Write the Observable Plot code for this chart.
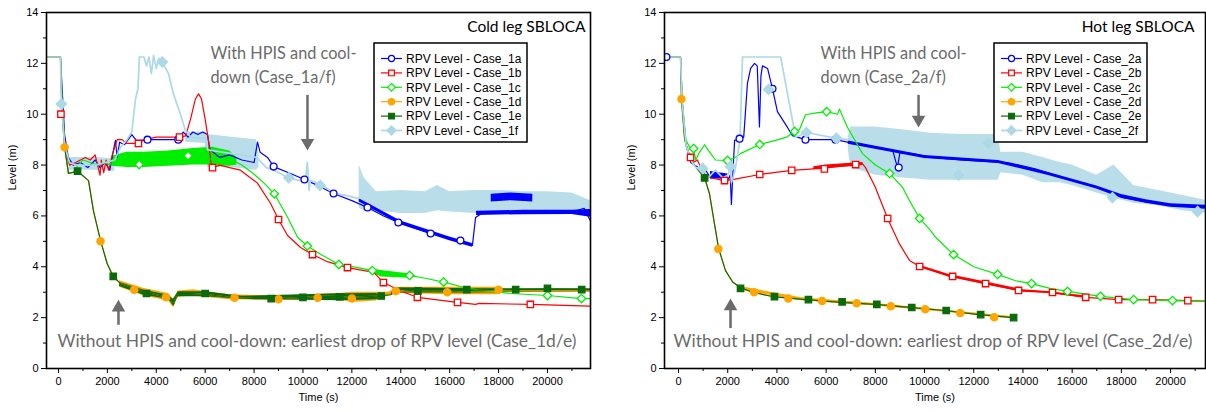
<!DOCTYPE html>
<html><head><meta charset="utf-8">
<script src="https://cdn.jsdelivr.net/npm/d3@7"></script>
<script src="https://cdn.jsdelivr.net/npm/@observablehq/plot@0.6"></script>
<style>
body{margin:0;background:#fff;}
#wrap{position:relative;width:1206px;height:411px;overflow:hidden;background:#fff;}
#left{position:absolute;left:0;top:0;}
#right{position:absolute;left:600px;top:0;}
</style></head><body>
<div id="wrap"><div id="left"></div><div id="right"></div></div>
<script>
// ---------- tick labels ----------
const yTicks = [0, 2, 4, 6, 8, 10, 12, 14];
const yMinor = [1, 3, 5, 7, 9, 11, 13];
const xTicks = [0, 2000, 4000, 6000, 8000, 10000, 12000, 14000, 16000, 18000, 20000];
const xMinor = [1000, 3000, 5000, 7000, 9000, 11000, 13000, 15000, 17000, 19000, 21000];

// ---------- Cold leg SBLOCA (Case 1) ----------
const names1 = ["RPV Level - Case_1a","RPV Level - Case_1b","RPV Level - Case_1c","RPV Level - Case_1d","RPV Level - Case_1e","RPV Level - Case_1f"];
const c1a = [[-1000,12.25],[80,12.25],[150,11.0],[250,9.2],[400,8.3],[600,8.0],[900,8.1],[1200,7.9],[1500,8.2],[1700,7.9],[1900,8.1],[2100,7.8],[2250,8.6],[2330,8.97],[2400,8.3],[2500,8.9],[2700,8.8],[3000,9.2],[3200,8.95],[3640,9.0],[4200,9.0],[4900,9.0],[5100,9.3],[5300,9.1],[5500,9.3],[5700,9.2],[5900,9.3],[6090,9.2],[6200,8.6],[6600,8.3],[7000,8.4],[7500,8.2],[8000,8.1],[8140,8.9],[8250,8.5],[8550,8.3],[8800,7.94],[9490,7.67],[10060,7.43],[10600,7.2],[11250,6.88],[12000,6.6],[12640,6.33],[13300,6.0],[13900,5.74],[14500,5.55],[15220,5.31],[15600,5.25],[16000,5.1],[16440,5.03],[16930,4.84],[17060,5.94],[17300,6.1],[18000,6.1],[19000,6.15],[20000,6.1],[21000,6.15],[21500,6.3],[21760,5.8]];
const c1b = [[-1000,12.25],[80,12.25],[130,10.5],[200,9.5],[300,8.5],[450,8.0],[700,8.1],[900,8.2],[1100,8.3],[1300,8.2],[1500,8.4],[1600,8.0],[1700,7.6],[1750,8.2],[1850,7.7],[1950,8.2],[2050,7.8],[2200,8.4],[2400,9.0],[2600,9.0],[2800,8.85],[3270,8.85],[3500,9.0],[4000,9.1],[4950,9.1],[5200,9.15],[5400,9.8],[5600,10.6],[5730,10.8],[5850,10.6],[6000,9.8],[6130,9.0],[6250,8.0],[6300,7.9],[6600,8.0],[7000,7.9],[7440,7.8],[8130,7.3],[8670,6.5],[9000,5.86],[9370,5.23],[9900,4.76],[10390,4.48],[11000,4.2],[11820,3.97],[12900,3.78],[13290,3.38],[14000,3.05],[14680,2.8],[15500,2.7],[16320,2.6],[17060,2.52],[17200,2.56],[19300,2.52],[21760,2.45]];
const c1c = [[-1000,12.25],[80,12.25],[150,10.5],[250,8.8],[400,7.7],[600,7.7],[800,8.0],[1000,8.2],[1300,8.1],[1600,8.0],[1900,8.1],[2100,8.0],[2200,8.2],[3000,8.2],[5000,8.3],[7000,8.2],[7300,8.1],[7500,8.0],[7980,7.66],[8400,7.3],[8830,6.87],[9370,5.95],[9780,5.16],[10180,4.82],[10700,4.5],[11470,4.09],[12200,3.98],[12840,3.85],[13500,3.75],[14360,3.66],[15000,3.55],[15750,3.4],[16720,3.15],[17500,3.05],[18500,2.95],[20000,2.87],[21390,2.75],[21760,2.75]];
const c1d = [[-1000,12.25],[80,12.25],[150,10.0],[250,8.7],[410,7.67],[780,7.76],[1230,7.39],[1430,6.2],[1720,5.03],[1990,4.13],[2240,3.62],[2540,3.34],[3350,3.07],[4000,2.9],[4500,2.8],[4700,2.5],[4850,2.95],[5400,2.95],[6000,2.92],[7000,2.8],[8000,2.75],[9000,2.75],[10000,2.8],[11000,2.85],[12000,2.8],[13000,2.85],[13700,2.95],[14000,3.05],[16000,3.05],[18000,3.05],[20000,3.05],[21760,3.05]];
const c1e = [[-1000,12.25],[80,12.25],[150,10.0],[250,8.7],[410,7.67],[780,7.76],[1230,7.39],[1430,6.2],[1720,5.03],[1990,4.13],[2240,3.62],[2540,3.34],[3350,3.07],[4000,2.9],[4500,2.8],[4700,2.5],[4850,2.95],[5400,2.95],[6000,2.92],[7000,2.8],[8000,2.75],[9000,2.75],[10000,2.8],[11000,2.85],[12000,2.8],[13000,2.85],[13600,2.9],[13700,3.15],[14500,3.05],[16000,3.05],[18000,3.1],[20000,3.12],[21760,3.1]];
const c1f = [[-1000,12.25],[80,12.25],[120,10.4],[250,8.8],[450,8.1],[700,8.0],[1500,8.0],[2300,8.2],[2540,8.7],[2800,9.0],[3000,9.3],[3150,10.6],[3250,11.0],[3310,12.25],[3500,12.25],[3600,11.9],[3700,12.25],[3800,11.6],[3890,12.3],[4000,11.8],[4100,12.2],[4250,12.05],[4500,11.6],[4700,10.8],[4990,10.0],[5190,9.36],[5400,9.1],[6000,9.05],[6100,8.6],[8100,8.3],[8500,7.9],[8800,7.8],[9420,7.5],[9800,7.4],[10100,7.4],[10180,8.1],[10250,7.0],[10300,7.4],[10800,7.2],[11250,6.9],[11800,6.8],[12200,6.7],[12300,6.7]];
const c1aBands = [[[12300,6.55,6.68],[14000,5.65,5.8],[16000,5.02,5.17],[16930,4.77,4.92]],[[17700,6.55,6.85],[18500,6.6,6.9],[19400,6.55,6.85]],[[17100,6.02,6.18],[19000,6.05,6.22],[21000,6.06,6.22],[21760,5.95,6.25]]];
const c1bBands = [];
const c1cBands = [[[2200,7.95,8.35],[2800,7.9,8.5],[3500,7.9,8.5],[4500,7.95,8.55],[5500,8.0,8.65],[6300,8.0,8.7],[7000,7.95,8.55],[7300,8.0,8.3]],[[12900,3.75,3.9],[13200,3.6,3.85],[14400,3.55,3.72],[14600,3.6,3.65]]];
const c1dBands = [[[2500,3.2,3.45],[3500,2.85,3.15],[4500,2.65,2.95],[4700,2.4,2.7],[4900,2.8,3.05],[5500,2.85,3.1],[7000,2.7,2.9],[9000,2.68,2.85],[11500,2.7,2.95],[12000,2.6,3.0],[13000,2.65,3.0],[13500,2.85,3.0],[14000,2.95,3.2],[16000,2.9,3.2],[18000,2.9,3.2],[18100,3.0,3.12],[21760,3.0,3.12]]];
const c1eBands = [[[2500,3.22,3.38],[3500,2.88,3.08],[4500,2.72,2.88],[4700,2.47,2.72],[4900,2.82,3.02],[6000,2.82,3.02],[7500,2.72,2.84],[11500,2.66,2.94],[13000,2.7,2.95],[13200,2.8,2.85]],[[13700,2.97,3.18],[17000,2.97,3.14],[21760,3.02,3.14]]];
const c1fBands = [[[450,7.8,8.3],[1500,7.8,8.3],[2300,7.75,8.25]],[[5200,8.9,9.3],[6000,8.85,9.3],[6100,7.9,9.2],[7000,7.9,9.1],[8100,7.8,9.0],[8200,7.9,8.4]],[[12300,6.3,8.0],[12500,6.2,7.5],[13000,6.2,6.95],[14000,6.1,7.0],[15000,6.1,6.95],[15500,6.2,7.2],[16000,6.15,6.95],[17000,6.1,7.0],[18000,6.15,7.0],[19000,6.15,6.95],[20000,6.1,6.95],[21000,6.1,6.9],[21760,6.1,6.6]]];
const c1aMarks = [[3640,9.0],[4900,9.0],[8800,7.94],[10060,7.43],[11250,6.88],[12640,6.33],[13900,5.74],[15220,5.31],[16440,5.03]];
const c1bMarks = [[100,10.0],[3270,8.85],[4950,9.1],[6300,7.9],[9000,5.86],[10390,4.48],[11820,3.97],[13290,3.38],[14680,2.8],[16320,2.6],[19300,2.52]];
const c1cMarks = [[3300,8.02],[5300,8.37],[8830,6.87],[10180,4.82],[11470,4.09],[12840,3.85],[14360,3.66],[15750,3.4],[20000,2.87],[21390,2.75]];
const c1dMarks = [[250,8.7],[1720,5.0],[3100,3.1],[4400,2.8],[7200,2.78],[9000,2.72],[10600,2.78],[12000,2.75],[13800,3.05],[15900,3.0],[18000,3.1]];
const c1eMarks = [[780,7.76],[2240,3.62],[3600,2.95],[6000,2.95],[8700,2.75],[10000,2.8],[11500,2.82],[13200,2.85],[14700,3.05],[16700,3.1],[18700,3.1],[20000,3.15],[21400,3.1]];
const c1fMarks = [[120,10.4],[4250,12.05],[9420,7.5],[10700,7.2]];
const notes1 = [[6217,12.39,"With HPIS and cool-"],[6217,11.44,"down (Case_1a/f)"],[-40,1.06,"Without HPIS and cool-down: earliest drop of RPV level (Case_1d/e)"]];
const arrows1 = [[10184,10.74,8.57],[2454,1.7,2.7]];

// ---------- Hot leg SBLOCA (Case 2) ----------
const names2 = ["RPV Level - Case_2a","RPV Level - Case_2b","RPV Level - Case_2c","RPV Level - Case_2d","RPV Level - Case_2e","RPV Level - Case_2f"];
const c2a = [[-1000,12.25],[80,12.25],[150,10.5],[300,8.8],[500,8.1],[800,7.9],[1100,7.8],[1300,7.5],[1500,7.7],[1700,7.5],[1900,7.6],[2000,7.4],[2100,7.6],[2150,6.45],[2200,7.5],[2280,8.97],[2480,9.04],[2650,9.1],[2800,11.2],[2930,11.8],[3090,12.0],[3200,11.9],[3290,9.5],[3350,11.5],[3410,11.9],[3620,11.8],[3820,11.0],[4020,10.1],[4430,9.48],[4630,9.16],[5160,9.0],[6380,9.0],[6870,8.9],[7500,8.8],[8500,8.6],[8700,8.6],[8900,7.9],[9000,8.5],[9500,8.45],[10240,8.3],[11500,8.2],[13370,8.1],[14500,7.85],[15330,7.6],[16200,7.35],[17030,7.12],[18090,6.72],[19000,6.55],[20000,6.41],[21500,6.35]];
const c2b = [[-1000,12.25],[80,12.25],[150,10.5],[300,8.8],[490,8.3],[600,8.1],[770,8.2],[900,7.9],[1100,7.6],[1300,7.5],[1870,7.39],[2300,7.45],[3300,7.63],[4600,7.79],[5930,7.88],[6500,7.95],[7200,8.02],[7480,8.05],[7600,7.9],[8000,7.13],[8500,5.9],[8980,4.9],[9390,4.25],[9800,4.01],[10500,3.8],[11140,3.62],[12480,3.34],[13820,3.07],[15200,2.99],[16550,2.8],[17890,2.71],[19270,2.71],[20700,2.67],[21500,2.65]];
const c2c = [[-1000,12.25],[80,12.25],[150,10.5],[300,9.0],[450,8.7],[610,8.65],[700,8.2],[850,8.5],[1060,8.8],[1200,8.6],[1500,8.2],[1990,8.18],[2300,8.3],[2520,8.45],[3300,8.81],[3940,8.97],[4400,9.1],[4720,9.32],[4920,9.4],[5160,9.98],[5600,10.05],[6020,10.1],[6460,10.0],[6540,10.2],[6870,9.48],[7480,8.45],[8000,8.0],[8580,7.67],[9110,7.12],[9390,6.6],[9800,5.9],[10240,5.43],[10450,5.16],[11180,4.48],[12000,4.0],[12970,3.7],[13700,3.45],[14350,3.34],[15100,3.15],[15810,3.03],[17150,2.84],[18500,2.71],[20080,2.67],[21500,2.64]];
const c2d = [[-1000,12.25],[80,12.25],[120,10.6],[250,9.0],[500,8.2],[800,7.8],[1060,7.5],[1260,6.87],[1460,5.7],[1630,4.72],[1910,3.85],[2200,3.4],[2520,3.18],[3000,3.0],[3820,2.83],[5160,2.71],[6590,2.6],[8000,2.52],[9390,2.4],[10810,2.28],[12200,2.12],[13740,1.98]];
const c2e = [[-1000,12.25],[80,12.25],[120,10.6],[250,9.0],[500,8.2],[800,7.8],[1060,7.5],[1260,6.87],[1460,5.7],[1630,4.72],[1910,3.85],[2200,3.4],[2520,3.18],[3000,3.0],[3820,2.83],[5160,2.71],[6590,2.6],[8000,2.52],[9390,2.4],[10810,2.28],[12200,2.12],[13620,2.0]];
const c2f = [[-1000,12.25],[80,12.25],[150,10.5],[300,8.8],[500,8.2],[700,7.9],[980,7.87],[1200,7.5],[1500,7.8],[1800,7.5],[2000,7.6],[2110,7.94],[2150,7.3],[2300,7.8],[2500,9.0],[2600,12.25],[4150,12.25],[4760,9.1],[5200,9.28],[6420,9.05],[6900,9.0]];
const c2aBands = [[[1300,7.45,7.75],[2000,7.45,7.65]],[[6900,8.82,8.95],[10000,8.26,8.38],[13000,8.06,8.18],[15000,7.6,7.72],[17000,7.06,7.18],[18000,6.7,6.84],[19000,6.5,6.64],[20000,6.34,6.48],[21500,6.26,6.42]]];
const c2bBands = [[[5500,7.82,7.93],[6000,7.87,8.0],[7000,7.93,8.07],[7500,7.98,8.1]],[[9800,3.97,4.06],[11000,3.59,3.7],[12500,3.29,3.4],[14000,3.0,3.1],[15000,2.95,3.03],[16500,2.77,2.86]]];
const c2cBands = [];
const c2dBands = [[[2520,3.08,3.22],[5000,2.66,2.78],[8000,2.46,2.56],[13740,1.96,2.03]]];
const c2eBands = [];
const c2fBands = [[[6900,8.6,9.1],[7000,7.9,9.5],[8000,7.6,9.5],[9000,7.5,9.4],[10240,7.4,9.25],[11500,7.4,9.2],[13000,7.4,9.2],[13100,7.7,8.5],[14000,7.6,8.5],[14800,7.3,8.3],[15500,7.3,8.1],[16000,7.2,8.0],[17000,6.9,7.6],[17700,6.7,8.0],[18500,6.5,7.2],[19500,6.4,7.0],[20500,6.2,6.8],[21500,6.1,6.6]]];
const c2aMarks = [[-490,12.25],[2480,9.04],[3820,11.0],[5160,9.0],[6380,9.0],[8950,7.9]];
const c2bMarks = [[490,8.3],[1870,7.39],[3300,7.63],[4600,7.79],[5930,7.85],[7200,8.02],[8500,5.9],[9800,4.01],[11140,3.62],[12480,3.34],[13820,3.07],[15200,2.99],[16550,2.8],[17890,2.71],[19270,2.71],[20700,2.67]];
const c2cMarks = [[610,8.65],[1990,8.18],[3300,8.81],[4720,9.32],[6020,10.1],[8580,7.67],[9800,5.9],[11180,4.48],[12970,3.7],[14350,3.34],[15810,3.03],[17150,2.84],[18500,2.71],[20080,2.67]];
const c2dMarks = [[120,10.6],[1620,4.7],[3070,3.0],[4460,2.75],[5840,2.65],[7240,2.57],[8630,2.45],[10030,2.33],[11450,2.18],[12830,2.02]];
const c2eMarks = [[1060,7.5],[2520,3.15],[3900,2.83],[5280,2.71],[6650,2.62],[8060,2.52],[9480,2.4],[10880,2.28],[12280,2.12],[13620,2.0]];
const c2fMarks = [[980,7.87],[2110,7.94],[3660,10.97],[5200,9.28],[6420,9.05],[11380,7.6],[12600,8.85],[17640,6.72],[21100,6.17]];
const notes2 = [[5772,12.39,"With HPIS and cool-"],[5772,11.44,"down (Case_2a/f)"],[-203,1.06,"Without HPIS and cool-down: earliest drop of RPV level (Case_2d/e)"]];
const arrows2 = [[9756,10.74,9.48],[2114,1.57,2.75]];

// ---------- styles ----------
const styles = [
  {color:"#0000ff", symbol:"circle", fill:"white", r:3.4, sw:1.2, op:1},
  {color:"#ff0000", symbol:"square", fill:"white", r:3.6, sw:1.2, op:1},
  {color:"#00ee00", symbol:"diamond2", fill:"white", r:3.8, sw:1.2, op:1},
  {color:"#ffa500", symbol:"circle", fill:"#ffa500", r:3.6, sw:1.2, op:1},
  {color:"#0b6b0b", symbol:"square", fill:"#0b6b0b", r:3.6, sw:1.2, op:1},
  {color:"#add8e6", symbol:"diamond2", fill:"#add8e6", r:4.6, sw:1.7, op:0.85}
];
const noteColor = "#6b6b6b";
const X = d => d[0], Y = d => d[1];

function panel(cfg) {
  const m = [];
  const order = [5, 0, 1, 2, 3, 4];
  for (const i of order) for (const b of cfg.bands[i])
    m.push(Plot.areaY(b, {x: X, y1: d => d[1], y2: d => d[2], fill: styles[i].color, fillOpacity: styles[i].op, clip: true}));
  for (let i = 0; i < 6; i++)
    m.push(Plot.line(cfg.lines[i], {x: X, y: Y, stroke: styles[i].color, strokeWidth: styles[i].sw, clip: true}));
  for (let i = 0; i < 6; i++)
    m.push(Plot.dot(cfg.marks[i], {x: X, y: Y, symbol: styles[i].symbol, r: styles[i].r, stroke: styles[i].color, fill: styles[i].fill, strokeWidth: 1.3, clip: true}));
  const down = cfg.arrows.filter(d => d[1] > d[2]), up = cfg.arrows.filter(d => d[1] < d[2]);
  m.push(Plot.ruleX(down, {x: X, y1: d => d[1], y2: d => d[2] + 0.4, stroke: noteColor, strokeWidth: 2.5}));
  m.push(Plot.ruleX(up, {x: X, y1: d => d[1], y2: d => d[2] - 0.4, stroke: noteColor, strokeWidth: 2.5}));
  m.push(Plot.dot(down, {x: X, y: d => d[2], symbol: "triangle", rotate: 180, r: 5, fill: noteColor, dy: -7.8}));
  m.push(Plot.dot(up, {x: X, y: d => d[2], symbol: "triangle", r: 5, fill: noteColor, dy: 7.8}));
  m.push(Plot.text(cfg.notes.slice(0, 2), {x: X, y: Y, text: d => d[2], textAnchor: "start", lineAnchor: "middle", fontSize: 16.3, fill: noteColor, fontFamily: "Lato"}));
  m.push(Plot.text(cfg.notes.slice(2), {x: X, y: Y, text: d => d[2], textAnchor: "start", lineAnchor: "middle", fontSize: 17.4, fill: noteColor, fontFamily: "Lato"}));
  m.push(Plot.text([cfg.title], {frameAnchor: "top-right", dx: cfg.titleDx, dy: 15, textAnchor: "end", lineAnchor: "middle", fontSize: 15.5, fill: "black", fontFamily: "Lato"}));
  m.push(Plot.axisY(yTicks, {tickSize: 5, tickPadding: 3, label: null, fontSize: 11}));
  m.push(Plot.axisY(yMinor, {tickSize: 3, tickFormat: () => "", label: null}));
  m.push(Plot.axisX(xTicks, {tickSize: 5, tickPadding: 4, label: null, fontSize: 11, tickFormat: d => String(d)}));
  m.push(Plot.axisX(xMinor, {tickSize: 3, tickFormat: () => "", label: null}));
  m.push(Plot.text(["Time (s)"], {frameAnchor: "bottom", dy: 29, lineAnchor: "middle", fontSize: 11, fill: "black"}));
  m.push(Plot.text(["Level (m)"], {frameAnchor: "left", dx: -cfg.ylabelOff, rotate: -90, lineAnchor: "middle", fontSize: 11, fill: "black"}));
  m.push(Plot.frame({stroke: "black", strokeWidth: 1.6}));
  const svg = Plot.plot({
    width: cfg.width, height: 411,
    marginTop: 12, marginBottom: 43, marginLeft: cfg.marginLeft, marginRight: cfg.marginRight,
    x: {domain: cfg.xDomain},
    y: {domain: [0, 14]},
    style: {fontFamily: "'Liberation Sans', Arial, sans-serif", fontSize: "11px", color: "black", background: "white", overflow: "visible"},
    marks: m
  });
  // legend box
  const g = d3.select(svg).append("g").attr("transform", `translate(${cfg.legend[0]},${cfg.legend[1]})`);
  g.append("rect").attr("width", 153).attr("height", 99).attr("fill", "white").attr("stroke", "black").attr("stroke-width", 1.5);
  const syms = {circle: d3.symbolCircle, square: d3.symbolSquare, diamond2: d3.symbolDiamond2};
  cfg.names.forEach((nm, i) => {
    const yy = 15.5 + i * 14.4, s = styles[i];
    g.append("line").attr("x1", 7).attr("x2", 28).attr("y1", yy).attr("y2", yy).attr("stroke", s.color).attr("stroke-width", s.sw);
    g.append("path").attr("transform", `translate(17.5,${yy})`)
      .attr("d", d3.symbol().type(syms[s.symbol]).size(Math.PI * s.r * s.r * 0.8)())
      .attr("fill", s.fill).attr("stroke", s.color).attr("stroke-width", 1.2);
    g.append("text").attr("x", 32).attr("y", yy).attr("dy", "0.35em").attr("font-size", 12)
      .attr("text-anchor", "start")
      .attr("font-family", "'Liberation Sans', Arial, sans-serif").attr("fill", "black").text(nm);
  });
  return svg;
}

document.getElementById("left").appendChild(panel({
  width: 600, marginLeft: 46, marginRight: 10, xDomain: [-490, 21760], ylabelOff: 34,
  lines: [c1a, c1b, c1c, c1d, c1e, c1f],
  bands: [c1aBands, c1bBands, c1cBands, c1dBands, c1eBands, c1fBands],
  marks: [c1aMarks, c1bMarks, c1cMarks, c1dMarks, c1eMarks, c1fMarks],
  notes: notes1, arrows: arrows1, names: names1, title: "Cold leg SBLOCA", titleDx: -5,
  legend: [374, 43]
}));
document.getElementById("right").appendChild(panel({
  width: 606, marginLeft: 64, marginRight: 1, xDomain: [-570, 21420], ylabelOff: 33,
  lines: [c2a, c2b, c2c, c2d, c2e, c2f],
  bands: [c2aBands, c2bBands, c2cBands, c2dBands, c2eBands, c2fBands],
  marks: [c2aMarks, c2bMarks, c2cMarks, c2dMarks, c2eMarks, c2fMarks],
  notes: notes2, arrows: arrows2, names: names2, title: "Hot leg SBLOCA", titleDx: -11,
  legend: [394, 43]
}));
</script></body></html>
